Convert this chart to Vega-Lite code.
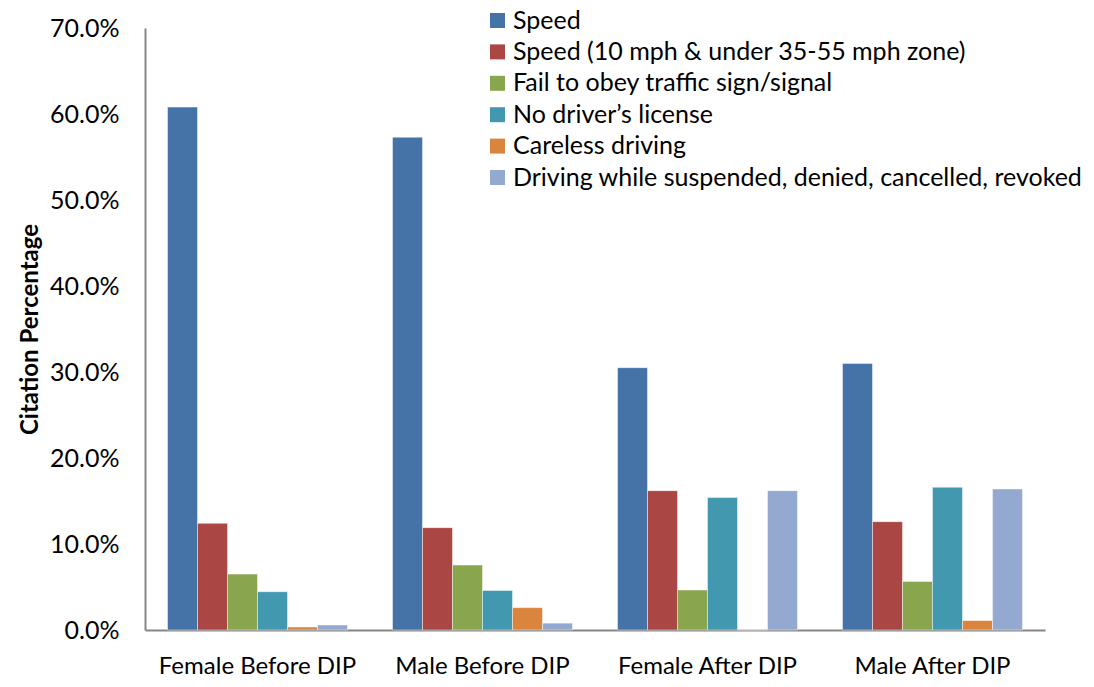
{
  "$schema": "https://vega.github.io/schema/vega-lite/v6.json",
  "width": 900,
  "height": 602,
  "autosize": {"type": "none"},
  "padding": {"left": 145, "top": 28, "right": 49, "bottom": 57},
  "background": "white",
  "config": {
    "view": {"stroke": null},
    "font": "Lato",
    "axis": {"labelFont": "Lato", "titleFont": "Lato", "labelColor": "black", "titleColor": "black", "grid": false, "ticks": false, "domainColor": "#868686", "domainWidth": 2, "labelLimit": 400}
  },
  "data": {
    "values": [
      {"group": "Female Before DIP", "cat": "Speed", "value": 0.608},
      {"group": "Female Before DIP", "cat": "Speed (10 mph & under 35-55 mph zone)", "value": 0.124},
      {"group": "Female Before DIP", "cat": "Fail to obey traffic sign/signal", "value": 0.065},
      {"group": "Female Before DIP", "cat": "No driver’s license", "value": 0.0445},
      {"group": "Female Before DIP", "cat": "Careless driving", "value": 0.0035},
      {"group": "Female Before DIP", "cat": "Driving while suspended, denied, cancelled, revoked", "value": 0.0058},
      {"group": "Male Before DIP", "cat": "Speed", "value": 0.573},
      {"group": "Male Before DIP", "cat": "Speed (10 mph & under 35-55 mph zone)", "value": 0.119},
      {"group": "Male Before DIP", "cat": "Fail to obey traffic sign/signal", "value": 0.0755},
      {"group": "Male Before DIP", "cat": "No driver’s license", "value": 0.046},
      {"group": "Male Before DIP", "cat": "Careless driving", "value": 0.026},
      {"group": "Male Before DIP", "cat": "Driving while suspended, denied, cancelled, revoked", "value": 0.008},
      {"group": "Female After DIP", "cat": "Speed", "value": 0.305},
      {"group": "Female After DIP", "cat": "Speed (10 mph & under 35-55 mph zone)", "value": 0.162},
      {"group": "Female After DIP", "cat": "Fail to obey traffic sign/signal", "value": 0.0465},
      {"group": "Female After DIP", "cat": "No driver’s license", "value": 0.154},
      {"group": "Female After DIP", "cat": "Careless driving", "value": 0},
      {"group": "Female After DIP", "cat": "Driving while suspended, denied, cancelled, revoked", "value": 0.162},
      {"group": "Male After DIP", "cat": "Speed", "value": 0.31},
      {"group": "Male After DIP", "cat": "Speed (10 mph & under 35-55 mph zone)", "value": 0.126},
      {"group": "Male After DIP", "cat": "Fail to obey traffic sign/signal", "value": 0.0565},
      {"group": "Male After DIP", "cat": "No driver’s license", "value": 0.166},
      {"group": "Male After DIP", "cat": "Careless driving", "value": 0.011},
      {"group": "Male After DIP", "cat": "Driving while suspended, denied, cancelled, revoked", "value": 0.164}
    ]
  },
  "mark": {"type": "bar", "stroke": "white", "strokeOpacity": 0.45, "strokeWidth": 1},
  "encoding": {
    "x": {
      "field": "group", "type": "nominal", "sort": null,
      "scale": {"paddingInner": 0.2, "paddingOuter": 0.1},
      "axis": {"title": null, "labelAngle": 0, "labelFontSize": 24, "labelPadding": 24, "labelLimit": 400}
    },
    "xOffset": {"field": "cat", "type": "nominal", "sort": null},
    "y": {
      "field": "value", "type": "quantitative",
      "scale": {"domain": [0, 0.7], "nice": false},
      "axis": {"title": "Citation Percentage", "format": ".1%", "values": [0, 0.1, 0.2, 0.3, 0.4, 0.5, 0.6, 0.7], "labelFontSize": 25, "labelPadding": 26, "titleFontSize": 24, "titleFontWeight": "bold", "titleX": -103, "titleY": 301}
    },
    "color": {
      "field": "cat", "type": "nominal", "sort": null,
      "scale": {
        "domain": ["Speed", "Speed (10 mph & under 35-55 mph zone)", "Fail to obey traffic sign/signal", "No driver’s license", "Careless driving", "Driving while suspended, denied, cancelled, revoked"],
        "range": ["#4572A7", "#AA4643", "#89A54E", "#4198AF", "#DB843D", "#93A9CF"]
      },
      "legend": {
        "title": null, "orient": "none", "legendX": 340, "legendY": -20,
        "symbolType": "square", "symbolSize": 225, "symbolStrokeWidth": 0,
        "labelFontSize": 25, "labelFont": "Lato", "labelColor": "black", "labelLimit": 800,
        "rowPadding": 5.4, "labelOffset": 3
      }
    }
  }
}
